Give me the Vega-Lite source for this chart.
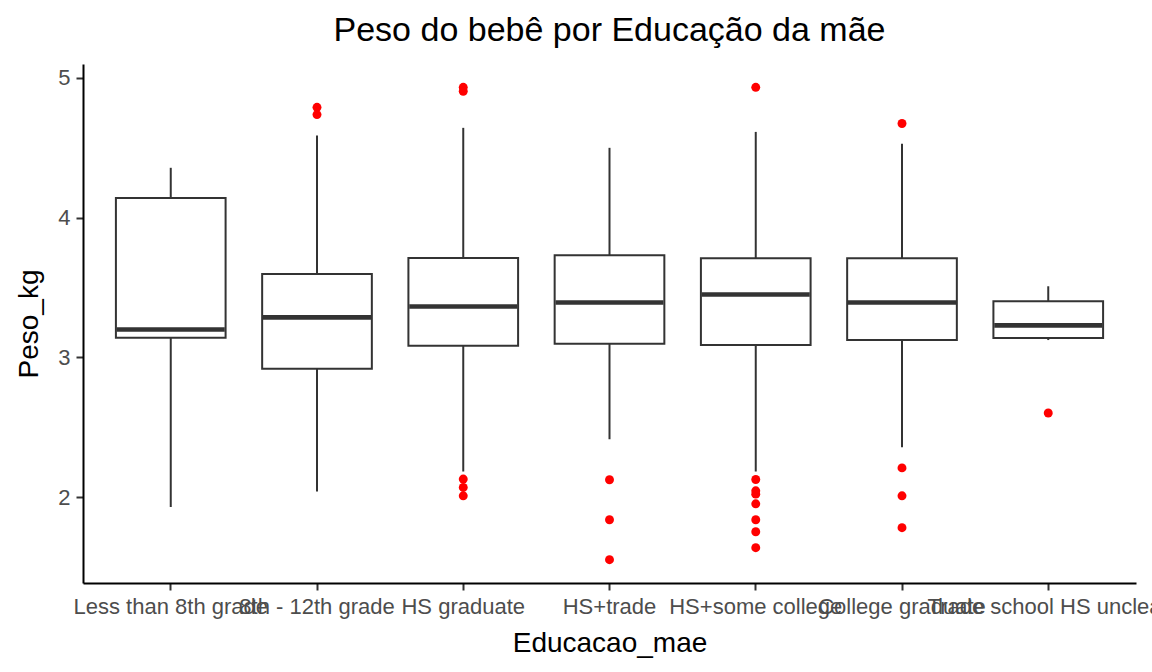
{
  "$schema": "https://vega.github.io/schema/vega-lite/v6.json",
  "width": 1053,
  "height": 519,
  "autosize": {"type": "none"},
  "padding": {"left": 83, "top": 64, "right": 16, "bottom": 89},
  "background": "white",
  "config": {
    "view": {"stroke": null},
    "font": "Liberation Sans"
  },
  "title": {
    "text": "Peso do bebê por Educação da mãe",
    "fontSize": 34,
    "font": "Liberation Sans",
    "fontWeight": "normal",
    "color": "black",
    "anchor": "middle",
    "frame": "group",
    "baseline": "alphabetic",
    "offset": 23,
    "dy": 34
  },
  "datasets": {
    "boxes": [
      {"Educacao_mae": "Less than 8th grade", "lower": 1.929, "q1": 3.140, "median": 3.200, "q3": 4.140, "upper": 4.357},
      {"Educacao_mae": "8th - 12th grade", "lower": 2.040, "q1": 2.919, "median": 3.286, "q3": 3.597, "upper": 4.588},
      {"Educacao_mae": "HS graduate", "lower": 2.183, "q1": 3.083, "median": 3.364, "q3": 3.711, "upper": 4.643},
      {"Educacao_mae": "HS+trade", "lower": 2.414, "q1": 3.097, "median": 3.393, "q3": 3.731, "upper": 4.500},
      {"Educacao_mae": "HS+some college", "lower": 2.183, "q1": 3.088, "median": 3.450, "q3": 3.709, "upper": 4.614},
      {"Educacao_mae": "College graduate", "lower": 2.357, "q1": 3.124, "median": 3.393, "q3": 3.709, "upper": 4.529},
      {"Educacao_mae": "Trade school HS unclear", "lower": 3.124, "q1": 3.138, "median": 3.229, "q3": 3.402, "upper": 3.509}
    ],
    "outliers": [
      {"Educacao_mae": "8th - 12th grade", "Peso_kg": 4.790},
      {"Educacao_mae": "8th - 12th grade", "Peso_kg": 4.738},
      {"Educacao_mae": "HS graduate", "Peso_kg": 4.933},
      {"Educacao_mae": "HS graduate", "Peso_kg": 4.905},
      {"Educacao_mae": "HS graduate", "Peso_kg": 2.129},
      {"Educacao_mae": "HS graduate", "Peso_kg": 2.069},
      {"Educacao_mae": "HS graduate", "Peso_kg": 2.009},
      {"Educacao_mae": "HS+trade", "Peso_kg": 2.124},
      {"Educacao_mae": "HS+trade", "Peso_kg": 1.838},
      {"Educacao_mae": "HS+trade", "Peso_kg": 1.552},
      {"Educacao_mae": "HS+some college", "Peso_kg": 4.933},
      {"Educacao_mae": "HS+some college", "Peso_kg": 2.126},
      {"Educacao_mae": "HS+some college", "Peso_kg": 2.045},
      {"Educacao_mae": "HS+some college", "Peso_kg": 2.021},
      {"Educacao_mae": "HS+some college", "Peso_kg": 1.952},
      {"Educacao_mae": "HS+some college", "Peso_kg": 1.838},
      {"Educacao_mae": "HS+some college", "Peso_kg": 1.752},
      {"Educacao_mae": "HS+some college", "Peso_kg": 1.638},
      {"Educacao_mae": "College graduate", "Peso_kg": 4.674},
      {"Educacao_mae": "College graduate", "Peso_kg": 2.209},
      {"Educacao_mae": "College graduate", "Peso_kg": 2.009},
      {"Educacao_mae": "College graduate", "Peso_kg": 1.781},
      {"Educacao_mae": "Trade school HS unclear", "Peso_kg": 2.602}
    ]
  },
  "encoding": {
    "x": {
      "field": "Educacao_mae",
      "type": "nominal",
      "sort": ["Less than 8th grade", "8th - 12th grade", "HS graduate", "HS+trade", "HS+some college", "College graduate", "Trade school HS unclear"],
      "scale": {"type": "band", "paddingInner": 0, "paddingOuter": 0.1},
      "axis": {
        "title": "Educacao_mae",
        "titleFont": "Liberation Sans",
        "titleFontSize": 28,
        "titleFontWeight": "normal",
        "titleColor": "black",
        "titlePadding": 12,
        "labelFont": "Liberation Sans",
        "labelFontSize": 22,
        "labelColor": "#4D4D4D",
        "labelAngle": 0,
        "labelOverlap": false,
        "labelBound": false,
        "labelFlush": false,
        "labelPadding": 6,
        "labelLimit": 0,
        "domainColor": "black",
        "domainWidth": 2,
        "tickColor": "#333333",
        "tickWidth": 2,
        "tickSize": 7,
        "grid": false
      }
    }
  },
  "layer": [
    {
      "data": {"name": "boxes"},
      "mark": {"type": "rule", "color": "#333333", "strokeWidth": 2},
      "encoding": {
        "y": {"field": "lower", "type": "quantitative"},
        "y2": {"field": "q1"}
      }
    },
    {
      "data": {"name": "boxes"},
      "mark": {"type": "rule", "color": "#333333", "strokeWidth": 2},
      "encoding": {
        "y": {"field": "q3", "type": "quantitative"},
        "y2": {"field": "upper"}
      }
    },
    {
      "data": {"name": "boxes"},
      "mark": {"type": "bar", "fill": "white", "stroke": "#333333", "strokeWidth": 2, "width": {"band": 0.75}},
      "encoding": {
        "y": {"field": "q1", "type": "quantitative"},
        "y2": {"field": "q3"}
      }
    },
    {
      "data": {"name": "boxes"},
      "mark": {"type": "tick", "color": "#333333", "thickness": 4.6, "size": 108, "opacity": 1},
      "encoding": {
        "y": {"field": "median", "type": "quantitative"}
      }
    },
    {
      "data": {"name": "outliers"},
      "mark": {"type": "point", "filled": true, "color": "#FF0000", "size": 80, "opacity": 1},
      "encoding": {
        "y": {
          "field": "Peso_kg",
          "type": "quantitative",
          "scale": {"domain": [1.385, 5.1], "nice": false, "zero": false},
          "axis": {
            "title": "Peso_kg",
            "titleFont": "Liberation Sans",
            "titleFontSize": 28,
            "titleFontWeight": "normal",
            "titleColor": "black",
            "titlePadding": 14,
            "values": [2, 3, 4, 5],
            "format": "d",
            "labelFont": "Liberation Sans",
            "labelFontSize": 22,
            "labelColor": "#4D4D4D",
            "labelPadding": 6,
            "domainColor": "black",
            "domainWidth": 2,
            "tickColor": "#333333",
            "tickWidth": 2,
            "tickSize": 7,
            "grid": false
          }
        }
      }
    }
  ]
}
